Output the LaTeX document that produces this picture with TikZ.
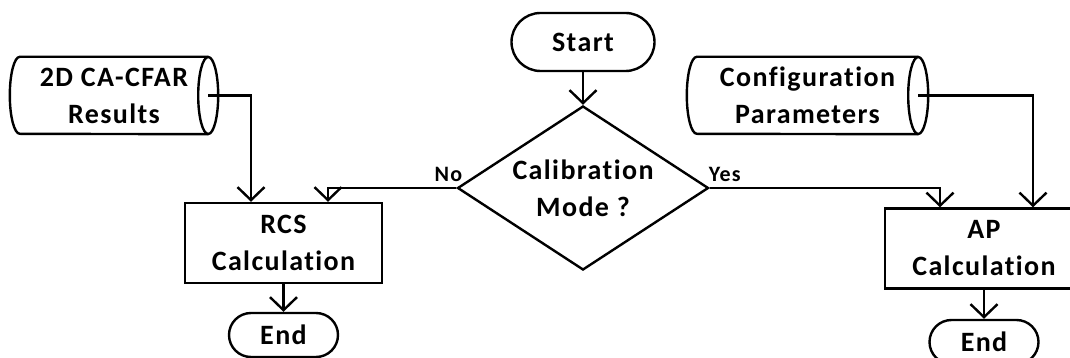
\documentclass[tikz,border=0pt]{standalone}
\usepackage{fontspec}
\setmainfont[Ligatures={NoCommon}, LetterSpace=5]{Carlito}
\usetikzlibrary{arrows.meta,shapes.geometric,calc}
\begin{document}
\begin{tikzpicture}[x=1pt,y=-1pt,
  every node/.style={font=\bfseries\fontsize{28}{37}\selectfont, align=center, inner sep=0pt},
  lw/.style={line width=2.4pt},
  arr/.style={lw, -{Straight Barb[length=13pt,width=27pt]}},
  term/.style={lw, draw, rectangle, rounded corners=22pt, minimum width=109pt, minimum height=44pt},
  procbox/.style={lw, draw, rectangle, minimum width=197pt, minimum height=80pt},
  decbox/.style={lw, draw, diamond, aspect=1.53, minimum width=251pt, minimum height=164pt},
  cylbody/.style={rectangle, minimum height=77pt},
  lbl/.style={font=\bfseries\fontsize{22}{26}\selectfont}
]
\path[use as bounding box, clip] (0,0) rectangle (1070,358);

% nodes
\node[lw, draw, rectangle, rounded corners=29pt, minimum width=143pt, minimum height=58pt] (start) at (583,42) {Start};
\node[decbox] (dec) at (583,188) {Calibration\\Mode ?};
\node[procbox] (rcs) at (283.5,243) {RCS\\Calculation};
\node[procbox, minimum width=198pt] (ap) at (984,248.5) {AP\\Calculation};
\node[term] (end1) at (283.5,335) {End};
\node[term] (end2) at (984,342) {End};

% cylinders (data)
\node[cylbody, minimum width=188pt] (cfar) at (114,95.5) {2D CA-CFAR\\Results};
\node[cylbody, minimum width=221pt] (conf) at (807.5,95.5) {Configuration\\Parameters};
\foreach \c in {cfar,conf}{
  \draw[lw] (\c.north east) -- (\c.north west)
     arc[start angle=90, end angle=270, x radius=10pt, y radius=38.5pt]
     -- (\c.south east);
  \draw[lw] (\c.east) ellipse [x radius=10pt, y radius=38.5pt];
}

% connectors
\draw[arr] (start.south) -- (dec.north);
\draw[arr] (dec.west) -| ([xshift=44.5pt]rcs.north);
\draw[arr] (dec.east) -| ([xshift=-44pt]ap.north);
\draw[arr] (cfar.east) -| ([xshift=-32.5pt]rcs.north);
\draw[arr] (conf.east) -| ([xshift=49pt]ap.north);
\draw[arr] (rcs.south) -- (end1.north);
\draw[arr] (ap.south) -- (end2.north);

% labels
\node[lbl, anchor=base east] (nolbl) at ([xshift=6pt,yshift=6pt]dec.west) {No};
\node[lbl, anchor=base west] (yeslbl) at ([xshift=-1pt,yshift=6pt]dec.east) {Yes};
\end{tikzpicture}
\end{document}
